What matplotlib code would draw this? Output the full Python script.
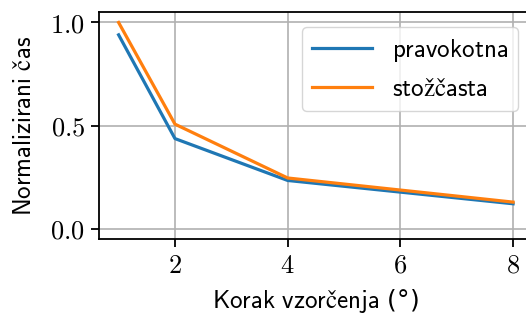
import numpy as np
import matplotlib
matplotlib.use("Agg")
import matplotlib.pyplot as plt

# === 資料 ===
korak = [1, 2, 4, 8]
pravokotna = [0.94, 0.437, 0.234, 0.121]
stozcasta = [1.0, 0.507, 0.246, 0.129]
y_ticks = [0.0, 0.5, 1.0]
x_ticks = [2, 4, 6, 8]

plt.rcParams['mathtext.fontset'] = 'cm'
plt.rcParams['font.size'] = 18

fig = plt.figure(figsize=(5.26, 3.2), dpi=100)
ax = fig.add_axes([0.188, 0.253, 0.825, 0.709])

ax.plot(korak, pravokotna, color='#1f77b4', lw=2.3, label=r'$\mathsf{pravokotna}$')
ax.plot(korak, stozcasta, color='#ff7f0e', lw=2.3, label=r'$\mathsf{stožčasta}$')

ax.set_ylim(-0.05, 1.05)
ax.set_xticks(x_ticks)
ax.set_xticklabels([f'${t}$' for t in x_ticks], fontsize=19)
ax.set_yticks(y_ticks)
ax.set_yticklabels([f'${t:.1f}$' for t in y_ticks], fontsize=19)
ax.grid(True, color='#b0b0b0', lw=1.2)
ax.set_axisbelow(True)
for s in ax.spines.values():
    s.set_linewidth(1.3)
ax.tick_params(width=1.3, length=5.5, pad=4.5)

ax.set_xlabel(r'$\mathsf{Korak\ vzorčenja}$ (°)', labelpad=6)
ax.set_ylabel(r'$\mathsf{Normalizirani\ čas}$', labelpad=10)
ax.legend(loc='upper right', borderaxespad=0.6, handlelength=2.4)

fig.savefig('out.png', dpi=100)
